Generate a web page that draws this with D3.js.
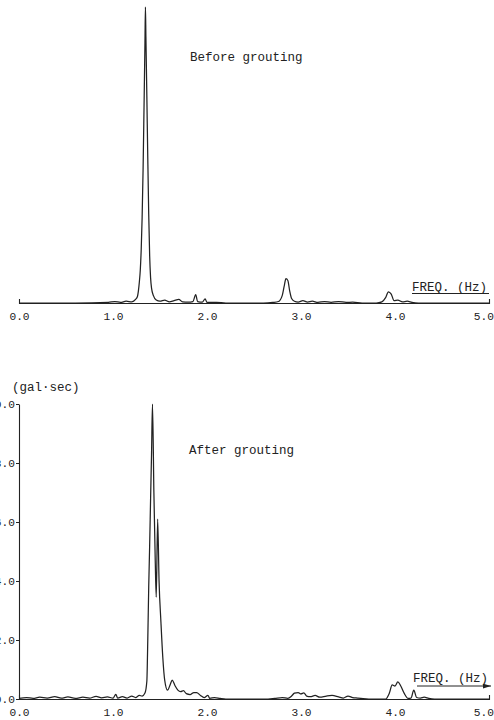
<!DOCTYPE html>
<html>
<head>
<meta charset="utf-8">
<script src="https://cdn.jsdelivr.net/npm/d3@7"></script>
<style>
  html, body { margin: 0; padding: 0; background: #fff; }
  svg { display: block; }
  .tick text { font-family: "Liberation Mono", monospace; font-size: 11.2px; fill: #222; }
  .note { font-family: "Liberation Mono", monospace; font-size: 12.5px; fill: #222; }
</style>
</head>
<body>
<svg id="chart" width="494" height="720"></svg>
<script>
// Fourier amplitude spectra (gal·sec) against frequency (Hz)
const freqBefore = [0.00, 0.60, 0.95, 1.02, 1.08, 1.14, 1.20, 1.24, 1.26, 1.27, 1.28, 1.29, 1.30, 1.31, 1.32, 1.33, 1.34, 1.345, 1.35, 1.36, 1.37, 1.38, 1.39, 1.40, 1.41, 1.43, 1.46, 1.50, 1.55, 1.60, 1.65, 1.70, 1.74, 1.80, 1.85, 1.88, 1.90, 1.95, 1.98, 2.00, 2.10, 2.20, 2.60, 2.70, 2.76, 2.80, 2.82, 2.84, 2.86, 2.88, 2.90, 2.93, 2.97, 3.02, 3.07, 3.12, 3.18, 3.25, 3.32, 3.40, 3.48, 3.55, 3.65, 3.80, 3.86, 3.90, 3.93, 3.96, 3.99, 4.03, 4.08, 4.13, 4.18, 4.25, 5.00];
const ampBefore  = [0.00, 0.00, 0.02, 0.05, 0.02, 0.06, 0.04, 0.12, 0.22, 0.40, 0.70, 1.10, 1.80, 2.90, 4.50, 6.60, 8.80, 10.00, 9.00, 7.00, 4.90, 3.00, 1.60, 0.85, 0.50, 0.25, 0.10, 0.06, 0.10, 0.04, 0.08, 0.12, 0.04, 0.03, 0.05, 0.28, 0.05, 0.03, 0.14, 0.02, 0.02, 0.00, 0.00, 0.02, 0.05, 0.25, 0.55, 0.82, 0.76, 0.40, 0.15, 0.06, 0.03, 0.08, 0.03, 0.06, 0.02, 0.05, 0.02, 0.05, 0.02, 0.03, 0.00, 0.00, 0.04, 0.18, 0.38, 0.30, 0.08, 0.10, 0.04, 0.06, 0.02, 0.00, 0.00];

const freqAfter = [0.00, 0.08, 0.15, 0.22, 0.30, 0.38, 0.45, 0.52, 0.60, 0.68, 0.75, 0.82, 0.88, 0.94, 1.00, 1.03, 1.05, 1.10, 1.15, 1.20, 1.24, 1.28, 1.31, 1.34, 1.36, 1.37, 1.38, 1.39, 1.40, 1.41, 1.42, 1.435, 1.45, 1.46, 1.475, 1.49, 1.51, 1.53, 1.55, 1.58, 1.61, 1.63, 1.66, 1.69, 1.72, 1.75, 1.78, 1.82, 1.86, 1.89, 1.93, 1.97, 2.01, 2.03, 2.08, 2.14, 2.20, 2.65, 2.72, 2.80, 2.86, 2.90, 2.93, 2.97, 3.00, 3.03, 3.06, 3.10, 3.15, 3.20, 3.27, 3.33, 3.40, 3.45, 3.50, 3.55, 3.60, 3.66, 3.72, 3.90, 3.94, 3.97, 4.00, 4.03, 4.06, 4.10, 4.14, 4.17, 4.20, 4.23, 4.27, 4.31, 4.36, 4.42, 5.00];
const ampAfter  = [0.02, 0.05, 0.02, 0.06, 0.03, 0.08, 0.03, 0.07, 0.02, 0.06, 0.03, 0.09, 0.04, 0.07, 0.03, 0.16, 0.03, 0.08, 0.03, 0.10, 0.05, 0.12, 0.10, 0.20, 0.60, 2.00, 3.80, 5.20, 6.80, 8.30, 10.00, 7.00, 4.60, 3.45, 6.10, 4.00, 2.60, 1.40, 0.64, 0.30, 0.50, 0.64, 0.45, 0.30, 0.25, 0.28, 0.18, 0.15, 0.22, 0.22, 0.12, 0.05, 0.12, 0.02, 0.05, 0.02, 0.00, 0.00, 0.02, 0.05, 0.02, 0.10, 0.20, 0.22, 0.17, 0.21, 0.10, 0.08, 0.12, 0.06, 0.10, 0.12, 0.07, 0.03, 0.10, 0.05, 0.03, 0.01, 0.00, 0.00, 0.20, 0.48, 0.44, 0.58, 0.45, 0.18, 0.02, 0.03, 0.30, 0.05, 0.03, 0.06, 0.02, 0.00, 0.00];

const freqTicks = [0, 1, 2, 3, 4, 5];
const ampTicks = [0, 2, 4, 6, 8, 10];

const svg = d3.select("#chart");
const ink = "#222";

const x = d3.scaleLinear().domain([0, 5]).range([19, 489]);
const yTop = d3.scaleLinear().domain([0, 10]).range([303, 7]);
const yBot = d3.scaleLinear().domain([0, 10]).range([699, 404]);
const fmt = d3.format(".1f");

function spectrum(freq, amp, y) {
  const pts = freq.map((f, i) => [f, amp[i]]);
  const line = d3.line()
    .x(d => x(d[0]))
    .y(d => y(d[1]))
    .curve(d3.curveMonotoneX);
  svg.append("path")
    .datum(pts)
    .attr("d", line)
    .attr("fill", "none")
    .attr("stroke", ink)
    .attr("stroke-width", 1.25)
    .attr("stroke-linejoin", "round");
}

function freqAxis(y0) {
  const g = svg.append("g")
    .attr("transform", `translate(0,${y0})`)
    .call(d3.axisBottom(x).tickValues(freqTicks).tickFormat(fmt)
      .tickSizeInner(0).tickSizeOuter(-4).tickPadding(9));
  g.select(".domain").attr("stroke", ink).attr("stroke-width", 1.1);
  g.selectAll(".tick text").attr("fill", ink);
  // last label kept inside the right margin
  g.selectAll(".tick text").filter(d => d === 5)
    .attr("text-anchor", "end").attr("x", 4.5);
  return g;
}

// ---- Before grouting ----
freqAxis(yTop(0));
spectrum(freqBefore, ampBefore, yTop);
svg.append("text").attr("class", "note").attr("x", 190).attr("y", 61).text("Before grouting");
svg.append("text").attr("class", "note").attr("x", 412).attr("y", 291).text("FREQ. (Hz)");
svg.append("line").attr("x1", 412).attr("x2", 489).attr("y1", 293.5).attr("y2", 293.5)
  .attr("stroke", ink).attr("stroke-width", 1);

// ---- After grouting ----
freqAxis(yBot(0));
const ya = svg.append("g")
  .attr("transform", `translate(${x(0)},0)`)
  .call(d3.axisLeft(yBot).tickValues(ampTicks).tickFormat(fmt)
    .tickSizeInner(3).tickSizeOuter(0).tickPadding(1));
ya.select(".domain").attr("stroke", ink).attr("stroke-width", 1.1);
ya.selectAll(".tick line").attr("stroke", ink);
ya.selectAll(".tick text").attr("fill", ink);

spectrum(freqAfter, ampAfter, yBot);
svg.append("text").attr("class", "note").attr("x", 12).attr("y", 391).attr("font-size", "12px").text("(gal·sec)");
svg.append("text").attr("class", "note").attr("x", 189).attr("y", 454).text("After grouting");
svg.append("text").attr("class", "note").attr("x", 413).attr("y", 682).text("FREQ. (Hz)");

// arrow under the frequency label
svg.append("defs").append("marker")
  .attr("id", "arrowhead").attr("viewBox", "0 0 10 6")
  .attr("refX", 10).attr("refY", 3)
  .attr("markerWidth", 8).attr("markerHeight", 5).attr("orient", "auto")
  .append("path").attr("d", "M0,0L10,3L0,6Z").attr("fill", ink);
svg.append("line").attr("x1", 417).attr("x2", 491).attr("y1", 686).attr("y2", 686)
  .attr("stroke", ink).attr("stroke-width", 1).attr("marker-end", "url(#arrowhead)");
</script>
</body>
</html>
